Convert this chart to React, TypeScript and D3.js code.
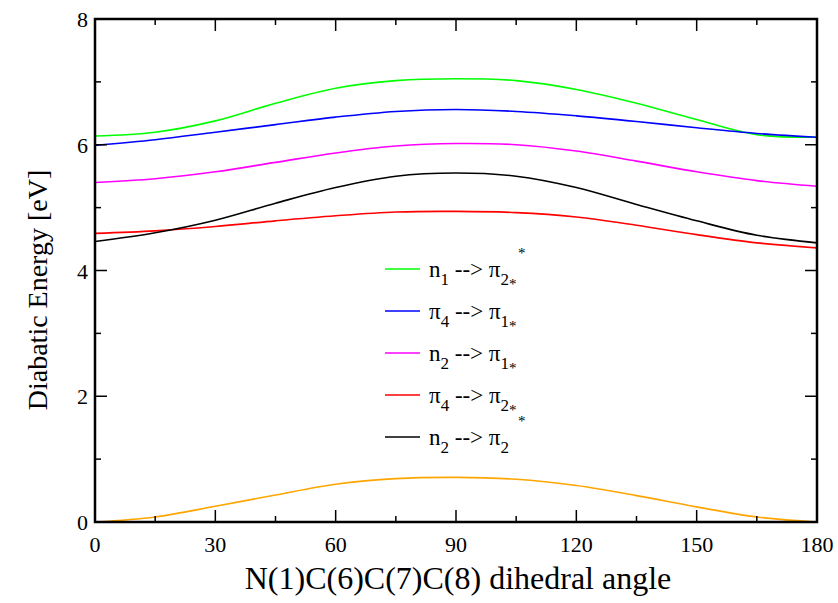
import React from "react";
import * as d3 from "d3";

const angles = [0, 15, 30, 45, 60, 75, 90, 105, 120, 135, 150, 165, 180];
const green = [6.14, 6.2, 6.38, 6.66, 6.9, 7.02, 7.05, 7.02, 6.88, 6.66, 6.4, 6.16, 6.12];
const blue = [5.99, 6.08, 6.2, 6.32, 6.44, 6.53, 6.56, 6.53, 6.46, 6.37, 6.27, 6.18, 6.12];
const magenta = [5.4, 5.46, 5.57, 5.72, 5.87, 5.98, 6.02, 6.0, 5.9, 5.74, 5.57, 5.43, 5.34];
const red = [4.59, 4.63, 4.7, 4.79, 4.87, 4.93, 4.94, 4.92, 4.85, 4.72, 4.57, 4.44, 4.36];
const black = [4.46, 4.6, 4.8, 5.07, 5.32, 5.5, 5.55, 5.5, 5.32, 5.05, 4.79, 4.56, 4.44];
const orange = [0, 0.08, 0.25, 0.43, 0.6, 0.69, 0.71, 0.68, 0.58, 0.42, 0.24, 0.08, 0];

const xTicks = [0, 30, 60, 90, 120, 150, 180];
const xMinor = [15, 45, 75, 105, 135, 165];
const yTicks = [0, 2, 4, 6, 8];
const yMinor = [1, 3, 5, 7];

const legend = [
  { color: "#00ff00", a: "n", as: "1", b: "2" },
  { color: "#0000ff", a: "\u03c0", as: "4", b: "1" },
  { color: "#ff00ff", a: "n", as: "2", b: "1" },
  { color: "#ff0000", a: "\u03c0", as: "4", b: "2" },
  { color: "#000000", a: "n", as: "2", b: "2" },
];

const series = [
  { v: green, c: "#00ff00" },
  { v: blue, c: "#0000ff" },
  { v: magenta, c: "#ff00ff" },
  { v: red, c: "#ff0000" },
  { v: black, c: "#000000" },
  { v: orange, c: "#ffa500" },
];

export default function App() {
  const L = 95, R = 817, T = 19, B = 522;
  const x = d3.scaleLinear().domain([0, 180]).range([L, R]);
  const y = d3.scaleLinear().domain([0, 8]).range([B, T]);
  const line = (vals: number[]) =>
    d3.line<number>().x((_, i) => x(angles[i])).y((d) => y(d)).curve(d3.curveCatmullRom.alpha(0.5))(vals) || "";
  const font = "'Liberation Serif', 'DejaVu Serif', serif";
  return (
    <svg width={838} height={603} style={{ position: "absolute", left: 0, top: 0, fontFamily: font }}>
      <rect width={838} height={603} fill="white" />
      {series.map((s, i) => (
        <path key={i} d={line(s.v)} fill="none" stroke={s.c} strokeWidth={1.6} />
      ))}
      {xTicks.map((t) => (
        <g key={"x" + t}>
          <line x1={x(t)} x2={x(t)} y1={B} y2={B - 12} stroke="black" strokeWidth={1.5} />
          <line x1={x(t)} x2={x(t)} y1={T} y2={T + 12} stroke="black" strokeWidth={1.5} />
          <text x={x(t)} y={552} fontSize={22} textAnchor="middle">{t}</text>
        </g>
      ))}
      {xMinor.map((t) => (
        <g key={"xm" + t}>
          <line x1={x(t)} x2={x(t)} y1={B} y2={B - 6} stroke="black" strokeWidth={1.5} />
          <line x1={x(t)} x2={x(t)} y1={T} y2={T + 6} stroke="black" strokeWidth={1.5} />
        </g>
      ))}
      {yTicks.map((t) => (
        <g key={"y" + t}>
          <line x1={L} x2={L + 12} y1={y(t)} y2={y(t)} stroke="black" strokeWidth={1.5} />
          <line x1={R} x2={R - 12} y1={y(t)} y2={y(t)} stroke="black" strokeWidth={1.5} />
          <text x={88} y={y(t) + 8} fontSize={22} textAnchor="end">{t}</text>
        </g>
      ))}
      {yMinor.map((t) => (
        <g key={"ym" + t}>
          <line x1={L} x2={L + 6} y1={y(t)} y2={y(t)} stroke="black" strokeWidth={1.5} />
          <line x1={R} x2={R - 6} y1={y(t)} y2={y(t)} stroke="black" strokeWidth={1.5} />
        </g>
      ))}
      <rect x={L} y={T} width={R - L} height={B - T} fill="none" stroke="black" strokeWidth={2.5} />
      {legend.map((l, i) => {
        const yy = 269 + i * 42;
        return (
          <g key={"l" + i}>
            <line x1={385} x2={420} y1={yy} y2={yy} stroke={l.color} strokeWidth={1.6} />
            <text x={429} y={yy + 8} fontSize={23}>
              <tspan>{l.a}</tspan>
              <tspan dy={8} fontSize={17}>{l.as}</tspan>
              <tspan dy={-8}>{" --> \u03c0"}</tspan>
              <tspan dy={8} fontSize={17}>{l.b}</tspan>
              {i < 4 && <tspan dy={4} fontSize={15}>*</tspan>}
            </text>
            {(i === 0 || i === 4) && (
              <text x={518} y={yy - 11} fontSize={15}>*</text>
            )}
          </g>
        );
      })}
      <text x={458} y={589} fontSize={32} textAnchor="middle">N(1)C(6)C(7)C(8) dihedral angle</text>
      <text transform="translate(47,290) rotate(-90)" fontSize={28} textAnchor="middle">Diabatic Energy [eV]</text>
    </svg>
  );
}
